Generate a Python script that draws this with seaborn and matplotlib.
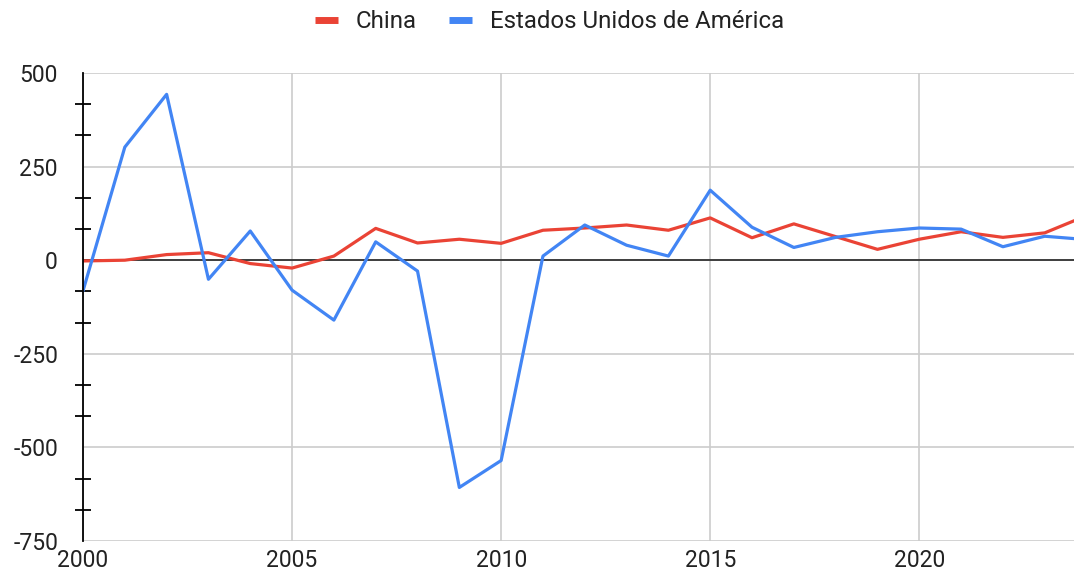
import matplotlib
matplotlib.use("Agg")
import matplotlib.pyplot as plt
from matplotlib.ticker import MultipleLocator
from matplotlib.lines import Line2D
import seaborn as sns
import pandas as pd

years = list(range(2000, 2025))
china = [-2, 0, 15, 20, -9, -21, 11, 85, 46, 56, 45, 80, 86, 94, 80, 113,
         60, 97, 63, 29, 56, 76, 61, 73, 119]
usa = [-82, 302, 443, -51, 78, -80, -160, 49, -29, -607, -535, 11, 94, 40,
       11, 187, 88, 34, 61, 76, 86, 83, 36, 64, 55]
series_names = ["China", "Estados Unidos de América"]
colors = ["#EA4335", "#4285F4"]
y_ticks = [-750, -500, -250, 0, 250, 500]
x_ticks = [2000, 2005, 2010, 2015, 2020]

df = pd.DataFrame({
    "year": years * 2,
    "value": china + usa,
    "series": [series_names[0]] * len(years) + [series_names[1]] * len(years),
})

sns.set_theme(style="white")
plt.rcParams["font.family"] = ["Roboto", "DejaVu Sans"]
plt.rcParams["axes.unicode_minus"] = False

FS = 16.5
LFS = 17.3
TXT = "#222222"

fig = plt.figure(figsize=(10.74, 5.74), dpi=100)
ax = fig.add_axes([83 / 1074, 33 / 574, 1 - 83 / 1074, 468 / 574])

ax.set_xlim(2000, 2023.7)
ax.set_ylim(-750, 500)

ax.set_yticks(y_ticks)
ax.set_xticks(x_ticks)
ax.yaxis.set_minor_locator(MultipleLocator(250 / 3))
ax.grid(True, which="major", color="#cccccc", linewidth=1.2)
ax.axhline(0, color="#333333", linewidth=1.3, zorder=2)

sns.lineplot(data=df, x="year", y="value", hue="series", palette=colors,
             linewidth=2.3, ax=ax, legend=False, zorder=3)

for s in ["top", "right", "bottom"]:
    ax.spines[s].set_visible(False)
ax.spines["left"].set_color("#000000")
ax.spines["left"].set_linewidth(1.3)
ax.spines["left"].set_zorder(4)

ax.tick_params(axis="y", which="major", length=0, labelsize=FS,
               labelcolor=TXT, pad=18)
ax.tick_params(axis="y", which="minor", length=11, width=1.3,
               direction="inout", color="#000000", left=True)
ax.tick_params(axis="x", which="major", length=0, labelsize=FS,
               labelcolor=TXT, pad=6)
ax.set_xlabel("")
ax.set_ylabel("")

handles = [Line2D([0], [0], color=c, linewidth=5, solid_capstyle="butt")
           for c in colors]
fig.legend(handles, series_names, loc="center",
           bbox_to_anchor=(549.5 / 1074, 1 - 22 / 574),
           ncol=2, frameon=False, fontsize=LFS, handlelength=0.96,
           handletextpad=0.75, columnspacing=1.34, labelcolor=TXT)

fig.savefig("out.png", dpi=100)
